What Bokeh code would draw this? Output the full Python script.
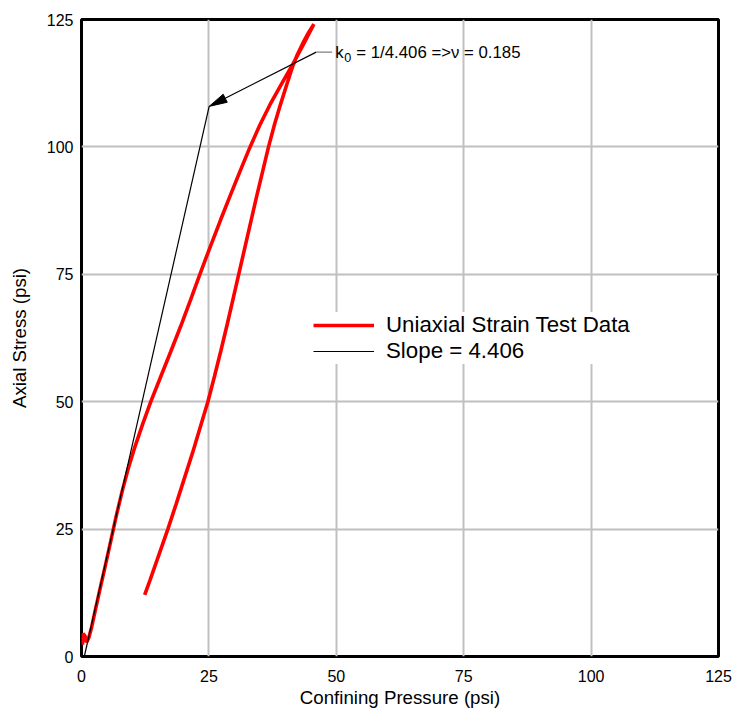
from bokeh.plotting import figure
from bokeh.models import Legend, LegendItem, Range1d, FixedTicker
from bokeh.core.properties import value
from bokeh.embed import file_html
from bokeh.resources import INLINE
import math

# ---- data ----
load_x = [0.2, 0.3, 0.7, 1.0, 1.4, 2.0, 2.8, 3.6, 4.6, 5.6, 6.8, 8.0, 9.2, 10.5, 12.0,
          13.6, 15.5, 17.5, 19.5, 21.4, 23.3, 25.3, 27.3, 29.2, 31.1, 33.0,
          35.0, 37.2, 39.4, 41.5, 43.6, 45.6]
load_y = [2.3, 4.5, 4.0, 2.8, 3.6, 5.8, 9.5, 13.1, 17.5, 22.0, 27.5, 32.5, 37.0, 41.2, 45.6,
          50.0, 54.8, 59.8, 64.9, 70.0, 75.2, 80.5, 85.7, 90.5, 95.2, 99.8,
          104.3, 108.7, 112.6, 116.3, 120.2, 124.1]
unload_x = [45.6, 44.6, 43.5, 42.3, 41.4, 40.3, 39.1, 37.9, 36.7, 35.5, 34.3, 33.15,
            32.0, 30.85, 29.7, 28.55, 27.35, 26.1, 24.8, 23.3, 21.8, 20.2, 18.6, 16.95,
            15.2, 13.45, 12.4]
unload_y = [124.1, 122.5, 120.5, 118.0, 115.7, 112.3, 108.5, 104.5, 100.0, 95.0, 90.0, 85.0,
            80.0, 75.0, 70.0, 65.0, 60.0, 55.0, 50.0, 45.0, 40.0, 35.0, 30.0, 25.0,
            20.0, 15.0, 12.1]
slope_x = [0.55, 25.05]
slope_y = [0.0, 107.95]
ticks = [0, 25, 50, 75, 100, 125]

series_label = "Uniaxial Strain Test Data"
slope_label = "Slope = 4.406"
x_title = "Confining Pressure (psi)"
y_title = "Axial Stress (psi)"
ann_k = "k"
ann_sub = "0"
ann_rest = "= 1/4.406 =>ν = 0.185"

ann_start = (46.06, 118.6)
ann_tip = (25.05, 107.95)
ann_hook_end = 49.2
ann_text_x = 49.8

FONT = "Liberation Sans"

p = figure(width=735, height=711, output_backend="svg", toolbar_location=None,
           x_range=Range1d(0, 125), y_range=Range1d(0, 125),
           min_border_left=81, min_border_right=17, min_border_top=19, min_border_bottom=55)
p.background_fill_color = "white"
p.border_fill_color = "white"
p.outline_line_color = "black"
p.outline_line_width = 3

for ax in (p.xaxis, p.yaxis):
    ax.ticker = FixedTicker(ticks=ticks)
    ax.axis_line_color = None
    ax.major_tick_line_color = None
    ax.minor_tick_line_color = None
    ax.major_tick_out = 0
    ax.major_tick_in = 0
    ax.major_label_text_font = FONT
    ax.major_label_text_font_size = "16px"
    ax.major_label_text_color = "black"
    ax.axis_label_text_font = FONT
    ax.axis_label_text_font_size = "18.7px"
    ax.axis_label_text_font_style = "normal"
    ax.axis_label_text_color = "black"

p.xaxis.axis_label = x_title
p.yaxis.axis_label = y_title
p.xaxis.major_label_standoff = 13
p.xaxis.axis_label_standoff = 2
p.yaxis.major_label_standoff = 8
p.yaxis.axis_label_standoff = 14

p.grid.ticker = FixedTicker(ticks=ticks)
p.grid.grid_line_color = "#c0c0c0"
p.grid.grid_line_width = 2

red_x = load_x + unload_x
red_y = load_y + unload_y
r_red = p.line(red_x, red_y, line_color="#ff0000", line_width=3.6)
r_black = p.line(slope_x, slope_y, line_color="black", line_width=1.2)

# annotation arrow
scale = 637 / 125.0
sx, sy = ann_start
tx, ty = ann_tip
dx, dy = sx - tx, sy - ty
L = math.hypot(dx, dy)
ux, uy = dx / L, dy / L
head_len = 18 / scale
half_w = 4.5 / scale
bx, by = tx + ux * head_len, ty + uy * head_len
nx, ny = -uy, ux
p.line([sx, bx], [sy, by], line_color="black", line_width=1.2)
p.patch([tx, bx + nx * half_w, bx - nx * half_w], [ty, by + ny * half_w, by - ny * half_w],
        fill_color="black", line_color="black", line_width=1)
p.line([sx, ann_hook_end], [sy, sy], line_color="#808080", line_width=1.2)

p.text(x=[ann_text_x], y=[sy], text=[ann_k], text_font=value(FONT), text_font_size="16.8px",
       text_baseline="middle", text_align="left", text_color="black")
p.text(x=[ann_text_x], y=[sy], text=[ann_sub], text_font=value(FONT), text_font_size="12.6px",
       text_baseline="middle", text_align="left", text_color="black", x_offset=9, y_offset=5)
p.text(x=[ann_text_x], y=[sy], text=[ann_rest], text_font=value(FONT), text_font_size="16.8px",
       text_baseline="middle", text_align="left", text_color="black", x_offset=21)

legend = Legend(items=[LegendItem(label=series_label, renderers=[r_red]),
                       LegendItem(label=slope_label, renderers=[r_black])],
                location=(232, 292))
legend.border_line_color = None
legend.background_fill_color = "white"
legend.background_fill_alpha = 1.0
legend.padding = 12
legend.margin = 0
legend.spacing = -2
legend.label_height = 24
legend.glyph_height = 24
legend.glyph_width = 61
legend.label_standoff = 12
legend.label_text_font = FONT
legend.label_text_font_size = "22.3px"
legend.label_text_color = "black"
p.add_layout(legend)

open("out.html", "w").write(file_html(p, INLINE))
